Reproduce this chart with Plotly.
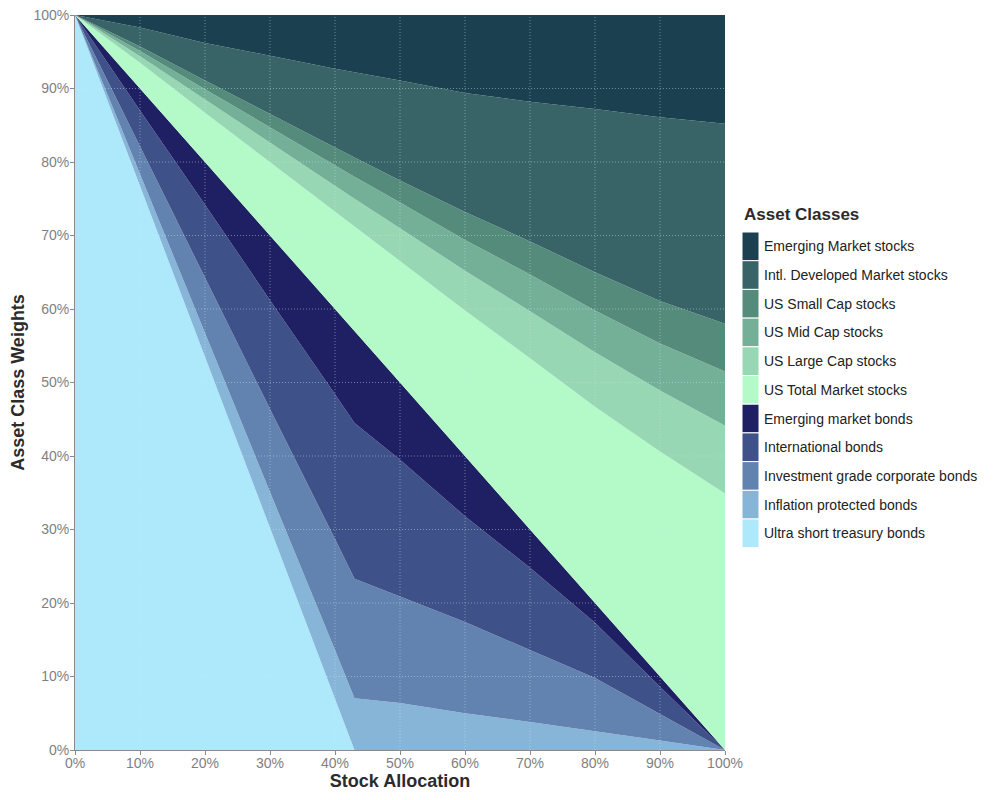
import plotly.graph_objects as go

# stock allocation (%) at which the weights were read
stock_pct = [0, 10, 20, 30, 40, 43, 50, 60, 70, 80, 90, 100]

# bond classes (bottom of the stack first)
ultra_short = [100, 76.7, 53.5, 30.2, 7.0, 0, 0, 0, 0, 0, 0, 0]
inflation_prot = [0, 1.6, 3.3, 4.9, 6.6, 7.05, 6.4, 5.0, 3.8, 2.6, 1.3, 0]
inv_grade_corp = [0, 3.8, 7.5, 11.3, 15.1, 16.25, 14.5, 12.4, 9.8, 7.2, 3.6, 0]
intl_bonds = [0, 4.9, 9.9, 14.8, 19.7, 21.2, 18.6, 14.4, 11.2, 7.5, 3.7, 0]
em_bonds = [0, 3.0, 5.8, 8.8, 11.6, 12.5, 10.5, 8.2, 5.2, 2.7, 1.4, 0]

# stock classes
us_total = [0, 3.5, 6.7, 10.0, 13.3, 14.2, 16.6, 19.8, 23.3, 26.7, 30.6, 34.9]
us_large = [0, 0.9, 1.8, 2.6, 3.5, 3.8, 4.4, 5.4, 6.4, 7.4, 8.3, 9.2]
us_mid = [0, 0.7, 1.4, 2.1, 2.8, 3.0, 3.5, 4.2, 5.0, 5.7, 6.4, 7.4]
us_small = [0, 0.6, 1.2, 1.8, 2.4, 2.6, 3.0, 3.8, 4.5, 5.2, 5.8, 6.5]
intl_dev = [0, 2.6, 5.1, 7.9, 10.7, 11.6, 13.6, 16.2, 19.0, 22.2, 25.0, 27.2]
em_stocks = [0, 1.7, 3.8, 5.6, 7.3, 7.8, 8.9, 10.6, 11.8, 12.8, 13.9, 14.8]

series = [
    ("Ultra short treasury bonds", ultra_short, "#aee8fb"),
    ("Inflation protected bonds", inflation_prot, "#87b5d8"),
    ("Investment grade corporate bonds", inv_grade_corp, "#6283b0"),
    ("International bonds", intl_bonds, "#3f5189"),
    ("Emerging market bonds", em_bonds, "#1f1f63"),
    ("US Total Market stocks", us_total, "#b3fac8"),
    ("US Large Cap stocks", us_large, "#97d7b3"),
    ("US Mid Cap stocks", us_mid, "#74b098"),
    ("US Small Cap stocks", us_small, "#558b7b"),
    ("Intl. Developed Market stocks", intl_dev, "#386468"),
    ("Emerging Market stocks", em_stocks, "#1b4050"),
]

tick_vals = [0, 10, 20, 30, 40, 50, 60, 70, 80, 90, 100]
tick_text = ["0%", "10%", "20%", "30%", "40%", "50%", "60%", "70%", "80%", "90%", "100%"]

fig = go.Figure()
for name, vals, col in series:
    fig.add_trace(go.Scatter(
        x=stock_pct, y=vals, name=name, mode="lines",
        stackgroup="one", line=dict(width=0, color=col),
        fillcolor=col, showlegend=False,
    ))

# dotted grid drawn over the areas
grid = dict(color="rgba(200,238,238,0.45)", width=1, dash="1px,2px")
for t in tick_vals[1:-1]:
    fig.add_shape(type="line", xref="x", yref="paper", x0=t, x1=t, y0=0, y1=1,
                  line=grid, layer="above")
    fig.add_shape(type="line", xref="paper", yref="y", x0=0, x1=1, y0=t, y1=t,
                  line=grid, layer="above")

# legend in ggplot style: tall colour keys stacked without gaps
# (page pixels: plot area spans x 75..725, y 15..750)
plot_w, plot_h = 650, 735
key_top, key_h = 232, 28.7
key_x0 = (742 - 75) / plot_w
key_x1 = (759 - 75) / plot_w
fig.add_annotation(xref="paper", yref="paper", x=key_x0, y=(750 - 215) / plot_h,
                   xanchor="left", yanchor="middle", showarrow=False,
                   text="<b>Asset Classes</b>",
                   font=dict(size=17, color="#2b2b2b"))
for i, (name, vals, col) in enumerate(reversed(series)):
    top = key_top + i * key_h
    fig.add_shape(type="rect", xref="paper", yref="paper",
                  x0=key_x0, x1=key_x1,
                  y0=(750 - top - key_h) / plot_h, y1=(750 - top) / plot_h,
                  fillcolor=col, line=dict(color="white", width=1))
    fig.add_annotation(xref="paper", yref="paper", x=(762 - 75) / plot_w,
                       y=(750 - top - key_h / 2) / plot_h,
                       xanchor="left", yanchor="middle", showarrow=False,
                       text=name, font=dict(size=14, color="#222"))

axis_common = dict(
    range=[0, 100], tickvals=tick_vals, ticktext=tick_text,
    showgrid=False, zeroline=False, automargin=False,
    ticklabeloverflow="allow",
    showline=True, linecolor="#8a8a8a", linewidth=1,
    ticks="outside", ticklen=4, tickcolor="#8a8a8a",
    tickfont=dict(family="Liberation Sans, Arial, sans-serif", size=14, color="#7f7f7f"),
)

# the page body adds an 8px margin, so the figure is sized to fit the window
fig.update_layout(
    width=984, height=784,
    margin=dict(l=67, r=267, t=7, b=42),
    paper_bgcolor="white", plot_bgcolor="white",
    font=dict(family="Liberation Sans, Arial, sans-serif", color="#222"),
    xaxis=dict(axis_common, ticklabelstandoff=-4,
               title=dict(text="<b>Stock Allocation</b>", standoff=0,
                          font=dict(size=18, color="#2b2b2b"))),
    yaxis=dict(axis_common, ticklabelstandoff=-2,
               title=dict(text="<b>Asset Class Weights</b>", standoff=4,
                          font=dict(size=18, color="#2b2b2b"))),
    showlegend=False,
)

fig.write_html("out.html")
